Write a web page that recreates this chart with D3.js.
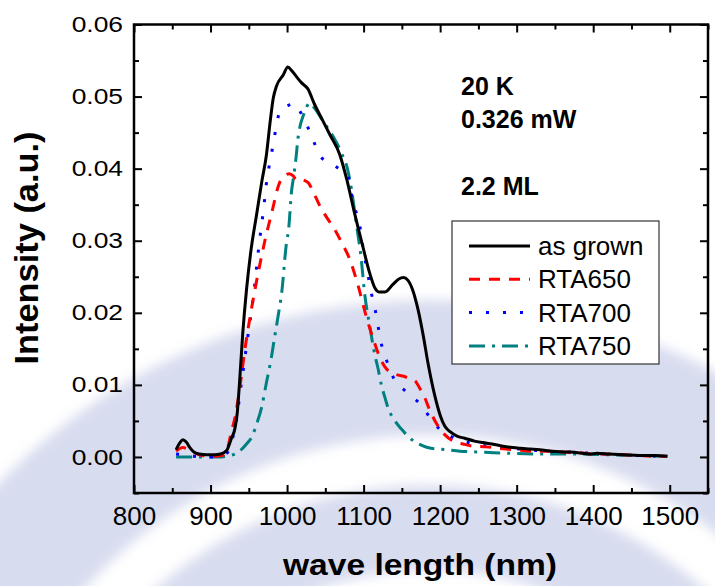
<!DOCTYPE html>
<html>
<head>
<meta charset="utf-8">
<script src="https://cdn.jsdelivr.net/npm/d3@7"></script>
<style>
  body { margin: 0; background: #fff; }
  svg { display: block; font-family: Arial, "Liberation Sans", sans-serif; }
</style>
</head>
<body>
<svg width="715" height="586"></svg>
<script>
// PL spectra, 20 K, 0.326 mW, 2.2 ML

const asGrownX = [855, 860, 864, 868, 873, 878, 885, 895, 905, 913, 921, 927, 932, 935, 938, 942, 947, 953, 960, 967, 973, 978, 982, 986, 995, 1001, 1006, 1012, 1019, 1027, 1036, 1046, 1056, 1069, 1078, 1088, 1099, 1108, 1115, 1120, 1128, 1138, 1146, 1152, 1158, 1164, 1171, 1178, 1184, 1193, 1200, 1206, 1213, 1222, 1232, 1245, 1256, 1268, 1282, 1295, 1305, 1317, 1330, 1347, 1365, 1380, 1395, 1405, 1420, 1440, 1460, 1480, 1497];
const asGrownY = [0.0010, 0.0020, 0.0024, 0.0021, 0.0013, 0.0007, 0.0004, 0.0003, 0.0003, 0.0004, 0.0009, 0.0025, 0.0040, 0.0062, 0.0105, 0.0170, 0.0232, 0.0288, 0.0335, 0.0382, 0.0419, 0.0466, 0.0498, 0.0514, 0.0530, 0.0541, 0.0536, 0.0528, 0.0519, 0.0511, 0.0489, 0.0468, 0.0447, 0.0419, 0.0385, 0.0339, 0.0292, 0.0255, 0.0234, 0.0229, 0.0229, 0.0239, 0.0247, 0.0249, 0.0245, 0.0232, 0.0205, 0.0168, 0.0131, 0.0085, 0.0058, 0.0043, 0.0035, 0.0029, 0.0026, 0.0022, 0.0020, 0.0018, 0.0015, 0.0013, 0.0012, 0.0011, 0.0010, 0.0008, 0.0007, 0.0006, 0.0004, 0.0005, 0.0004, 0.0003, 0.0002, 0.0002, 0.0001];

const rta650X = [855, 864, 870, 878, 890, 905, 915, 920, 923, 927, 932, 938, 945, 951, 958, 965, 971, 980, 990, 997, 1003, 1008, 1012, 1017, 1022, 1028, 1035, 1043, 1052, 1062, 1072, 1082, 1093, 1104, 1115, 1122, 1130, 1141, 1155, 1167, 1173, 1180, 1186, 1196, 1206, 1217, 1230, 1243, 1260, 1286, 1300, 1321, 1340, 1360, 1380, 1400, 1420, 1440, 1460, 1480, 1497];
const rta650Y = [0.0008, 0.0013, 0.0011, 0.0006, 0.0002, 0.0001, 0.0002, 0.0006, 0.0015, 0.0034, 0.0055, 0.0094, 0.0150, 0.0190, 0.0232, 0.0270, 0.0300, 0.0339, 0.0380, 0.0390, 0.0393, 0.0390, 0.0385, 0.0386, 0.0384, 0.0380, 0.0366, 0.0348, 0.0332, 0.0316, 0.0296, 0.0274, 0.0237, 0.0193, 0.0156, 0.0136, 0.0122, 0.0115, 0.0111, 0.0106, 0.0096, 0.0082, 0.0066, 0.0045, 0.0031, 0.0022, 0.0018, 0.0015, 0.0014, 0.0011, 0.0010, 0.0008, 0.0008, 0.0007, 0.0006, 0.0004, 0.0004, 0.0003, 0.0002, 0.0001, 0.0001];

const rta700X = [855, 865, 878, 900, 915, 922, 927, 932, 940, 947, 956, 964, 969, 974, 978, 982, 986, 991, 1000, 1010, 1016, 1023, 1033, 1042, 1052, 1062, 1072, 1079, 1084, 1089, 1095, 1100, 1106, 1110, 1115, 1119, 1123, 1130, 1139, 1156, 1176, 1191, 1200, 1213, 1230, 1250, 1270, 1304, 1340, 1380, 1420, 1460, 1497];
const rta700Y = [0.0004, 0.0003, 0.0001, 0.0000, 0.0002, 0.0006, 0.0020, 0.0040, 0.0100, 0.0154, 0.0223, 0.0300, 0.0341, 0.0388, 0.0411, 0.0435, 0.0459, 0.0481, 0.0487, 0.0490, 0.0481, 0.0467, 0.0443, 0.0419, 0.0410, 0.0404, 0.0397, 0.0392, 0.0366, 0.0344, 0.0321, 0.0285, 0.0251, 0.0228, 0.0205, 0.0181, 0.0158, 0.0134, 0.0110, 0.0090, 0.0071, 0.0048, 0.0038, 0.0029, 0.0022, 0.0017, 0.0014, 0.0011, 0.0008, 0.0006, 0.0004, 0.0002, 0.0001];

const rta750X = [855, 880, 910, 925, 932, 940, 947, 955, 960, 967, 973, 979, 984, 989, 993, 999, 1002, 1006, 1009, 1012, 1014, 1017, 1021, 1025, 1029, 1035, 1041, 1049, 1060, 1071, 1080, 1084, 1091, 1097, 1101, 1108, 1115, 1119, 1123, 1128, 1132, 1141, 1150, 1163, 1176, 1188, 1200, 1226, 1247, 1270, 1291, 1339, 1380, 1420, 1460, 1497];
const rta750Y = [0.0000, 0.0000, 0.0000, 0.0002, 0.0004, 0.0010, 0.0018, 0.0030, 0.0045, 0.0070, 0.0103, 0.0135, 0.0168, 0.0200, 0.0228, 0.0295, 0.0316, 0.0370, 0.0392, 0.0418, 0.0440, 0.0459, 0.0473, 0.0484, 0.0491, 0.0485, 0.0476, 0.0463, 0.0445, 0.0422, 0.0395, 0.0372, 0.0320, 0.0274, 0.0230, 0.0182, 0.0140, 0.0122, 0.0101, 0.0082, 0.0068, 0.0050, 0.0038, 0.0024, 0.0016, 0.0012, 0.0011, 0.0008, 0.0007, 0.0006, 0.0005, 0.0004, 0.0004, 0.0003, 0.0002, 0.0001];

const seriesNames = ["as grown", "RTA650", "RTA700", "RTA750"];
const xTicks = [800, 900, 1000, 1100, 1200, 1300, 1400, 1500];
const yTicks = [0.00, 0.01, 0.02, 0.03, 0.04, 0.05, 0.06];
const notes = ["20 K", "0.326 mW", "2.2 ML"];

const series = [
    { name: seriesNames[0], xs: asGrownX, ys: asGrownY, color: "#000000", dash: null },
    { name: seriesNames[1], xs: rta650X, ys: rta650Y, color: "#ff0000", dash: "11,9" },
    { name: seriesNames[2], xs: rta700X, ys: rta700Y, color: "#0000ff", dash: "3,14" },
    { name: seriesNames[3], xs: rta750X, ys: rta750Y, color: "#008080", dash: "16,7,3,7" }
];

const svg = d3.select("svg");
const area = { left: 134, top: 24.5, right: 708, bottom: 493 };
const w = area.right - area.left;
const h = area.bottom - area.top;

// faint watermark bands behind the chart (soft edges)
svg.append("defs").append("filter")
    .attr("id", "soft")
    .append("feGaussianBlur")
    .attr("stdDeviation", 6);

const wm = svg.append("g")
    .attr("transform", "translate(430, 900)")
    .attr("filter", "url(#soft)");
wm.append("path")
    .attr("d", d3.arc().innerRadius(465).outerRadius(600).startAngle(-Math.PI / 2).endAngle(Math.PI / 2)())
    .attr("fill", "#9ea8d6")
    .attr("opacity", 0.4);
wm.append("path")
    .attr("d", d3.arc().innerRadius(330).outerRadius(415).startAngle(-Math.PI / 2).endAngle(Math.PI / 2)())
    .attr("fill", "#9ea8d6")
    .attr("opacity", 0.4);

const scX = d3.scaleLinear().domain([800, 1550]).range([0, w]);
const scY = d3.scaleLinear().domain([-0.005, 0.06]).range([h, 0]);

const g = svg.append("g").attr("transform", `translate(${area.left}, ${area.top})`);

// curves first, frame on top
const lineGen = d3.line().x(d => scX(d[0])).y(d => scY(d[1])).curve(d3.curveMonotoneX);

series.slice().reverse().forEach(s => {
    const pts = s.xs.map((x, i) => [x, s.ys[i]]);
    g.append("path")
        .attr("d", lineGen(pts))
        .attr("fill", "none")
        .attr("stroke", s.color)
        .attr("stroke-width", 3)
        .attr("stroke-dasharray", s.dash);
});

// axes: ticks pointing inward on all four sides
const xMinor = d3.range(850, 1551, 100);
const yMinor = d3.range(-0.005, 0.06, 0.01).map(v => +v.toFixed(3));

function styleAxis(sel) {
    sel.select(".domain").remove();
    sel.selectAll("line").attr("stroke", "#000").attr("stroke-width", 2);
}

g.append("g").attr("transform", `translate(0, ${h})`)
    .call(d3.axisBottom(scX).tickValues(xTicks).tickSize(-8).tickPadding(14).tickFormat(d3.format("d")))
    .call(styleAxis)
    .selectAll("text")
    .attr("fill", "#000")
    .style("font-size", "26px");

g.append("g").attr("transform", `translate(0, ${h})`)
    .call(d3.axisBottom(scX).tickValues(xMinor).tickSize(-5).tickFormat(""))
    .call(styleAxis);

g.append("g")
    .call(d3.axisTop(scX).tickValues(xTicks).tickSize(-8).tickFormat(""))
    .call(styleAxis);
g.append("g")
    .call(d3.axisTop(scX).tickValues(xMinor).tickSize(-5).tickFormat(""))
    .call(styleAxis);

const yAx = g.append("g")
    .call(d3.axisLeft(scY).tickValues(yTicks).tickSize(-8).tickPadding(0).tickFormat(d3.format(".2f")))
    .call(styleAxis);
yAx.selectAll("text")
    .attr("fill", "#000")
    .style("font-size", "22px")
    .attr("x", -11 / 1.2)
    .attr("transform", "scale(1.2,1)");

g.append("g")
    .call(d3.axisLeft(scY).tickValues(yMinor).tickSize(-5).tickFormat(""))
    .call(styleAxis);

g.append("g").attr("transform", `translate(${w}, 0)`)
    .call(d3.axisRight(scY).tickValues(yTicks).tickSize(-8).tickFormat(""))
    .call(styleAxis);
g.append("g").attr("transform", `translate(${w}, 0)`)
    .call(d3.axisRight(scY).tickValues(yMinor).tickSize(-5).tickFormat(""))
    .call(styleAxis);

g.append("rect")
    .attr("x", 0).attr("y", 0)
    .attr("width", w).attr("height", h)
    .attr("fill", "none")
    .attr("stroke", "#000")
    .attr("stroke-width", 2.5);

// axis titles
svg.append("text")
    .attr("x", 420).attr("y", 575)
    .attr("text-anchor", "middle")
    .attr("textLength", 274)
    .attr("lengthAdjust", "spacingAndGlyphs")
    .style("font-size", "29px")
    .style("font-weight", "bold")
    .text("wave length (nm)");

svg.append("text")
    .attr("transform", "translate(38, 248) rotate(-90)")
    .attr("text-anchor", "middle")
    .attr("textLength", 233)
    .attr("lengthAdjust", "spacingAndGlyphs")
    .style("font-size", "34px")
    .style("font-weight", "bold")
    .text("Intensity (a.u.)");

// notes
const noteY = [95, 128, 195];
notes.forEach((t, i) => {
    svg.append("text")
        .attr("x", 461).attr("y", noteY[i])
        .style("font-size", "25px")
        .style("font-weight", "bold")
        .text(t);
});

// legend
const leg = svg.append("g");
leg.append("rect")
    .attr("x", 452).attr("y", 221)
    .attr("width", 207).attr("height", 143)
    .attr("fill", "#fff")
    .attr("stroke", "#333")
    .attr("stroke-width", 1.2);

series.forEach((s, i) => {
    const by = 255 + i * 33.3;
    leg.append("line")
        .attr("x1", 469).attr("x2", 530)
        .attr("y1", by - 9).attr("y2", by - 9)
        .attr("stroke", s.color)
        .attr("stroke-width", 3)
        .attr("stroke-dasharray", s.dash);
    leg.append("text")
        .attr("x", 538).attr("y", by)
        .style("font-size", "26px")
        .text(s.name);
});
</script>
</body>
</html>
